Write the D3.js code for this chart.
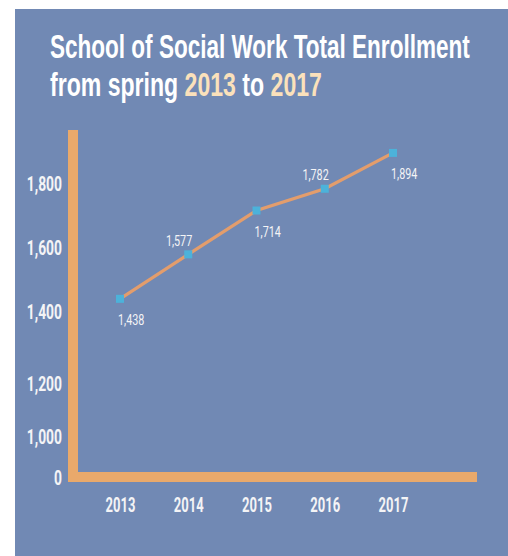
<!DOCTYPE html>
<html>
<head>
<meta charset="utf-8">
<script src="https://cdn.jsdelivr.net/npm/d3@7"></script>
<style>
  html, body { margin: 0; padding: 0; background: #ffffff; }
  svg { display: block; }
</style>
</head>
<body>
<script>
// ---- data ----
const years = [2013, 2014, 2015, 2016, 2017];
const enrollment = [1438, 1577, 1714, 1782, 1894];
const yTickValues = [0, 1000, 1200, 1400, 1600, 1800];
const titleLine1 = "School of Social Work Total Enrollment";
const titleLine2 = [
  { text: "from spring ", hi: false },
  { text: "2013", hi: true },
  { text: " to ", hi: false },
  { text: "2017", hi: true }
];

// ---- style ----
const W = 508, H = 556;
const BG = "#7189b4";
const AXIS = "#e9a96b";
const LINE = "#e39d6c";
const MARK = "#4cb2da";
const TXT = "#f4f4f6";
const HI = "#fbe1bb";
const FONT = "Roboto, 'Open Sans', sans-serif";
const TFONT = "'Liberation Sans', Arial, sans-serif";

const svg = d3.select("body").append("svg").attr("width", W).attr("height", H);

svg.append("rect").attr("x", 15).attr("y", 9).attr("width", W - 15).attr("height", H - 9).attr("fill", BG);

// title (condensed via horizontal scale fitted to target width)
function condensedLine(xPos, yPos, targetWidth, fill) {
  const g = svg.append("g");
  const t = g.append("text")
    .attr("x", 0).attr("y", 0)
    .attr("font-family", TFONT).attr("font-weight", 700).attr("font-size", 34)
    .attr("fill", fill);
  return { g, t, fit: () => {
    const w = t.node().getComputedTextLength();
    g.attr("transform", `translate(${xPos},${yPos}) scale(${targetWidth / w},1)`);
  }};
}
const l1 = condensedLine(50, 58, 420, "#ffffff");
l1.t.text(titleLine1);
l1.fit();

const l2 = condensedLine(50, 96, 272, "#ffffff");
l2.t.selectAll("tspan").data(titleLine2).enter().append("tspan")
  .attr("fill", d => d.hi ? HI : "#ffffff")
  .text(d => d.text);
l2.fit();

// scales
const x = d3.scalePoint().domain(years).range([120, 393]);
const y = d3.scaleLinear().domain([0, 1000, 1200, 1400, 1800]).range([477, 436, 383, 311, 183]);

// axis bars
svg.append("line").attr("x1", 73).attr("x2", 73).attr("y1", 130).attr("y2", 482)
  .attr("stroke", AXIS).attr("stroke-width", 10);
svg.append("line").attr("x1", 68).attr("x2", 477).attr("y1", 477).attr("y2", 477)
  .attr("stroke", AXIS).attr("stroke-width", 10);

// y axis labels
const sxY = 0.66;
const yAxis = svg.append("g").attr("transform", "translate(68,0)")
  .call(d3.axisLeft(y).tickValues(yTickValues).tickFormat(d3.format(",")).tickSize(0));
yAxis.select(".domain").remove();
yAxis.selectAll("text")
  .attr("x", -6 / sxY).attr("dy", "0.36em")
  .attr("transform", `scale(${sxY},1)`)
  .attr("font-family", FONT).attr("font-weight", 700).attr("font-size", 21)
  .attr("fill", TXT);

// x axis labels
const sxX = 0.62;
const xAxis = svg.append("g").attr("transform", "translate(0,504)")
  .call(d3.axisBottom(x).tickSize(0).tickFormat(d3.format("d")));
xAxis.select(".domain").remove();
xAxis.selectAll(".tick text")
  .attr("y", 0).attr("dy", "0.36em")
  .attr("transform", `scale(${sxX},1)`)
  .attr("font-family", FONT).attr("font-weight", 700).attr("font-size", 21)
  .attr("fill", TXT);

// line
const pts = years.map((yr, i) => ({ year: yr, value: enrollment[i], i }));
svg.append("path").datum(pts)
  .attr("d", d3.line().x(d => x(d.year)).y(d => y(d.value)))
  .attr("fill", "none").attr("stroke", LINE).attr("stroke-width", 3.2);

// markers
const ms = 8;
svg.selectAll("rect.mark").data(pts).enter().append("rect").attr("class", "mark")
  .attr("x", d => x(d.year) - ms / 2).attr("y", d => y(d.value) - ms / 2)
  .attr("width", ms).attr("height", ms).attr("fill", MARK);

// value labels (alternate below / above)
const sxL = 0.72;
svg.selectAll("g.vlab").data(pts).enter().append("g").attr("class", "vlab")
  .attr("transform", d => {
    const below = d.i % 2 === 0;
    const lx = below ? x(d.year) - 2 : x(d.year) + 4;
    const ly = below ? y(d.value) + 21 : y(d.value) - 14;
    return `translate(${lx},${ly}) scale(${sxL},1)`;
  })
  .append("text")
  .attr("dy", "0.36em")
  .attr("text-anchor", d => d.i % 2 === 0 ? "start" : "end")
  .attr("font-family", FONT).attr("font-weight", 400).attr("font-size", 15)
  .attr("fill", TXT)
  .text(d => d3.format(",")(d.value));
</script>
</body>
</html>
